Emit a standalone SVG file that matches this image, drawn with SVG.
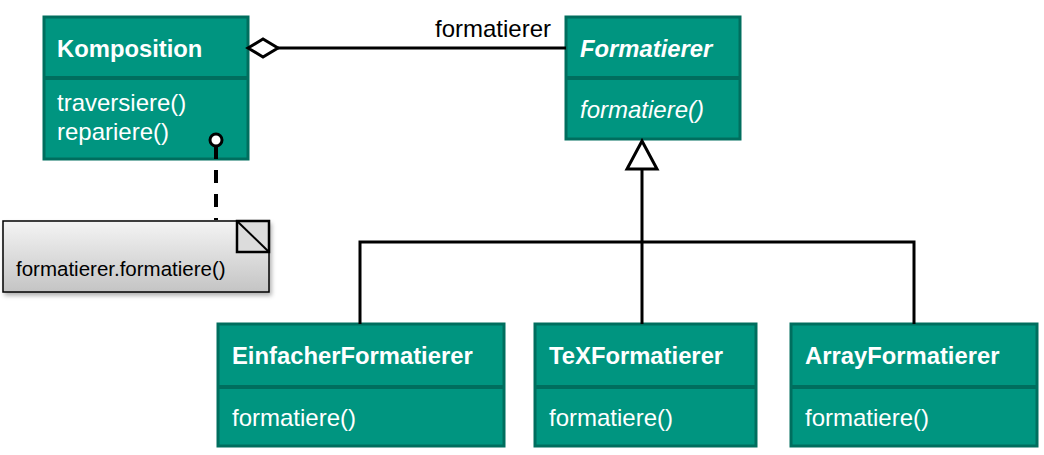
<svg xmlns="http://www.w3.org/2000/svg" width="1044" height="455" viewBox="0 0 1044 455">
<defs>
<style>
.box{fill:#009580;stroke:#006e5e;stroke-width:3}
.div{stroke:#006e5e;stroke-width:4}
.t{font-family:"Liberation Sans",Arial,sans-serif;font-size:24px;fill:#ffffff}
.b{font-weight:bold;font-size:23.8px}
.i{font-style:italic}
.ln{stroke:#000;stroke-width:3;fill:none}
</style>
<linearGradient id="ng" x1="0" y1="0" x2="0" y2="1">
<stop offset="0" stop-color="#f4f4f4"/>
<stop offset="1" stop-color="#c4c4c4"/>
</linearGradient>
<filter id="sh" x="-5%" y="-5%" width="115%" height="130%">
<feDropShadow dx="2" dy="3" stdDeviation="2" flood-color="#000" flood-opacity="0.3"/>
</filter>
</defs>
<g id="komposition">
<rect class="box" x="44" y="17" width="204" height="142"/>
<line class="div" x1="44" y1="78" x2="248" y2="78"/>
<text class="t b" x="57" y="57">Komposition</text>
<text class="t" x="57" y="111">traversiere()</text>
<text class="t" x="57" y="140">repariere()</text>
</g>
<g id="formatierer">
<rect class="box" x="566" y="17" width="174" height="122"/>
<line class="div" x1="566" y1="78" x2="740" y2="78"/>
<text class="t b i" x="580" y="57">Formatierer</text>
<text class="t i" x="580" y="118">formatiere()</text>
</g>
<g id="einfacher">
<rect class="box" x="218" y="324" width="286" height="122"/>
<line class="div" x1="218" y1="387" x2="504" y2="387"/>
<text class="t b" x="232" y="364">EinfacherFormatierer</text>
<text class="t" x="232" y="426">formatiere()</text>
</g>
<g id="tex">
<rect class="box" x="535" y="324" width="221" height="122"/>
<line class="div" x1="535" y1="387" x2="756" y2="387"/>
<text class="t b" x="549" y="364">TeXFormatierer</text>
<text class="t" x="549" y="426">formatiere()</text>
</g>
<g id="array">
<rect class="box" x="791" y="324" width="246" height="122"/>
<line class="div" x1="791" y1="387" x2="1037" y2="387"/>
<text class="t b" x="805" y="364">ArrayFormatierer</text>
<text class="t" x="805" y="426">formatiere()</text>
</g>
<g id="note">
<rect x="3" y="221" width="266" height="71" fill="url(#ng)" stroke="#000" stroke-width="1.5" filter="url(#sh)"/>
<rect x="237" y="221" width="32" height="31" fill="#dcdcdc" stroke="#000" stroke-width="2.5"/>
<line x1="237" y1="221" x2="269" y2="252" stroke="#000" stroke-width="2"/>
<text x="16" y="276" font-family="'Liberation Sans',Arial,sans-serif" font-size="20.5" fill="#000">formatierer.formatiere()</text>
</g>
<g id="connectors">
<line class="ln" x1="278" y1="48" x2="566" y2="48"/>
<polygon points="248,48 263,39 278,48 263,57" fill="#fff" stroke="#000" stroke-width="3"/>
<text x="435" y="37" font-family="'Liberation Sans',Arial,sans-serif" font-size="24" fill="#000">formatierer</text>
<line class="ln" x1="642" y1="169" x2="642" y2="324"/>
<polyline class="ln" points="360,324 360,242 914,242 914,324"/>
<polygon points="642,141 627,169 657,169" fill="#fff" stroke="#000" stroke-width="3"/>
<line x1="216" y1="146" x2="216" y2="220" stroke="#000" stroke-width="4" stroke-dasharray="13,11"/>
<circle cx="216" cy="140" r="6" fill="#fff" stroke="#000" stroke-width="3"/>
</g>
</svg>
